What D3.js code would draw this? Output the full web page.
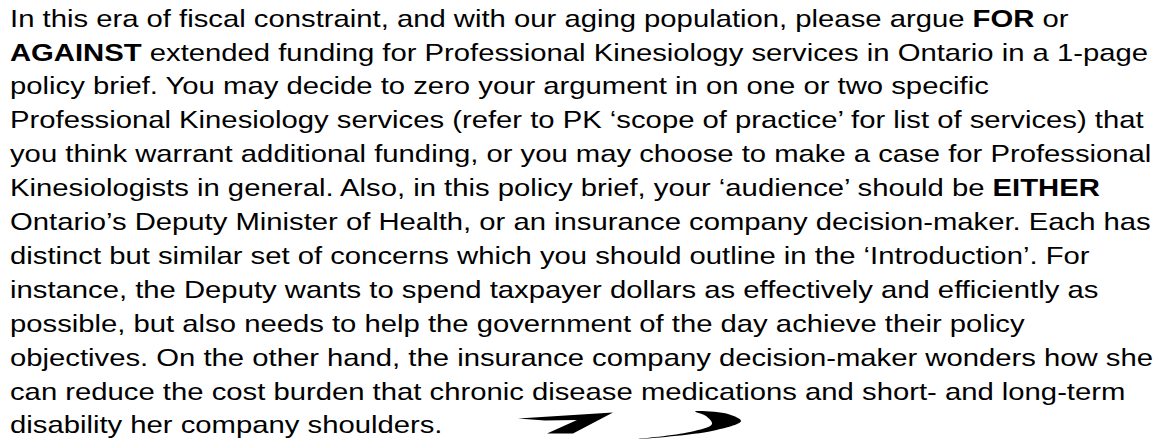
<!DOCTYPE html>
<html><head><meta charset="utf-8">
<script src="https://cdn.jsdelivr.net/npm/d3@7"></script>
<style>html,body{margin:0;padding:0;background:#fff;}svg{display:block;}</style>
</head><body>
<svg id="c" width="1162" height="439"></svg>
<script>
// Lines of the paragraph; segments marked bold where the reference uses bold
const lines = [
  [["In this era of fiscal constraint, and with our aging population, please argue ",0],["FOR",1],[" or",0]],
  [["AGAINST",1],[" extended funding for Professional Kinesiology services in Ontario in a 1-page",0]],
  [["policy brief. You may decide to zero your argument in on one or two specific",0]],
  [["Professional Kinesiology services (refer to PK \u2018scope of practice\u2019 for list of services) that",0]],
  [["you think warrant additional funding, or you may choose to make a case for Professional",0]],
  [["Kinesiologists in general. Also, in this policy brief, your \u2018audience\u2019 should be ",0],["EITHER",1]],
  [["Ontario\u2019s Deputy Minister of Health, or an insurance company decision-maker. Each has",0]],
  [["distinct but similar set of concerns which you should outline in the \u2018Introduction\u2019. For",0]],
  [["instance, the Deputy wants to spend taxpayer dollars as effectively and efficiently as",0]],
  [["possible, but also needs to help the government of the day achieve their policy",0]],
  [["objectives. On the other hand, the insurance company decision-maker wonders how she",0]],
  [["can reduce the cost burden that chronic disease medications and short- and long-term",0]],
  [["disability her company shoulders.",0]]
];
// Decorative swoosh outlines (in page units)
const swooshA = [[518,418.5],[613,412.5],[573,433.5],[547,433.5],[577,420],[545,420.5]];
const swooshB = [[695,411.5],[728,414],[741,421],[712,431],[638,439],[690,432],[712,424],[706,416]];

const svg = d3.select("#c");
const fontSize = 24.6;
const stretchX = 1.19;
const y = d3.scaleLinear().domain([0, lines.length-1]).range([26.7, 433.5]);

const g = svg.append("g").attr("transform", `translate(10,0) scale(${stretchX},1)`);
const t = g.selectAll("text.line").data(lines).join("text")
  .attr("class","line")
  .attr("x", 0)
  .attr("y", (d,i)=>y(i))
  .attr("font-family","'Liberation Sans', Arial, sans-serif")
  .attr("font-size", fontSize)
  .attr("fill","#000");
t.selectAll("tspan").data(d=>d).join("tspan")
  .attr("font-weight", d=>d[1]?"bold":"normal")
  .text(d=>d[0]);

svg.append("path")
  .attr("d", d3.line().curve(d3.curveLinearClosed)(swooshA))
  .attr("fill","#000");
svg.append("path")
  .attr("d", d3.line().curve(d3.curveCatmullRomClosed.alpha(0.5))(swooshB))
  .attr("fill","#000");
</script>
</body></html>
